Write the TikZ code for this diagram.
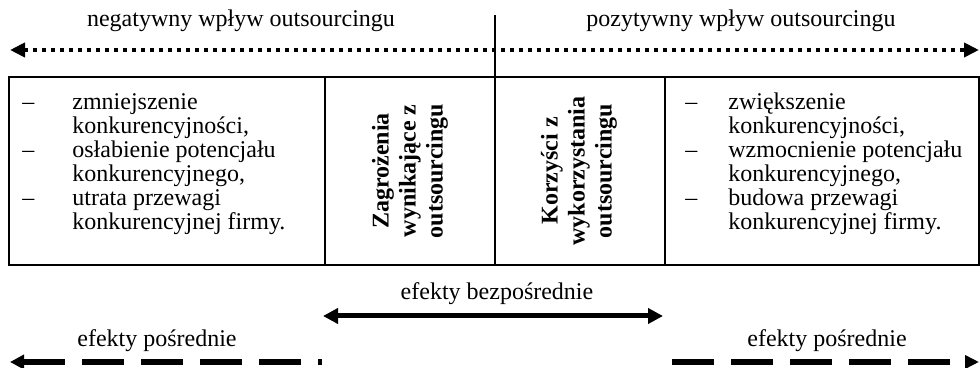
\documentclass[tikz,border=0pt]{standalone}
\usepackage{fontspec}
\setmainfont{Liberation Serif}
\usetikzlibrary{arrows.meta}
\begin{document}
\begin{tikzpicture}[x=0.5pt,y=-0.5pt,
  lbl/.style={font=\fontsize{12}{12}\selectfont, inner sep=0pt, anchor=base},
  item/.style={font=\fontsize{12}{12}\selectfont, inner sep=0pt, anchor=base west},
  vtitle/.style={font=\fontsize{12}{13.5}\selectfont\bfseries, inner sep=0pt, rotate=90, align=center},
  frame/.style={line width=1pt},
  dotarrow/.style={line width=2pt, dash pattern=on 2pt off 2.5pt, {Triangle[length=7.5pt,width=7pt]}-{Triangle[length=7.5pt,width=7pt]}},
  solidarrow/.style={line width=2.5pt, {Triangle[length=7.5pt,width=7.5pt]}-{Triangle[length=7.5pt,width=7.5pt]}},
  dasharrow/.style={line width=2.6pt, dash pattern=on 21pt off 8.5pt}
]
\useasboundingbox (0,0) rectangle (980,368);

% top labels
\node[lbl] (neg) at (241,27) {negatywny wpływ outsourcingu};
\node[lbl] (poz) at (741,27) {pozytywny wpływ outsourcingu};

% dotted arrow
\coordinate (dl) at (10,50);
\coordinate (dr) at (979,50);
\draw[dotarrow] (dl) -- (dr);

% vertical divider
\coordinate (vt) at (495,15);
\coordinate (vb) at (495,77);
\draw[frame] (vt) -- (vb);

% table
\coordinate (tl) at (9,77);
\coordinate (br) at (979,265);
\draw[frame] (tl) rectangle (br);
\draw[frame] (325,77) -- (325,265);
\draw[frame] (495,77) -- (495,265);
\draw[frame] (665,77) -- (665,265);

% left list
\node[item] (l1d) at (22,110) {–};
\node[item] (l1a) at (72,110) {zmniejszenie};
\node[item] (l1b) at (72,134) {konkurencyjności,};
\node[item] (l2d) at (22,158) {–};
\node[item] (l2a) at (72,158) {osłabienie potencjału};
\node[item] (l2b) at (72,182) {konkurencyjnego,};
\node[item] (l3d) at (22,206) {–};
\node[item] (l3a) at (72,206) {utrata przewagi};
\node[item] (l3b) at (72,230) {konkurencyjnej firmy.};

% vertical titles
\node[vtitle] (zag) at (410,171) {Zagrożenia\\wynikające z\\outsourcingu};
\node[vtitle] (kor) at (579,171) {Korzyści z\\wykorzystania\\outsourcingu};

% right list
\node[item] (r1d) at (685,110) {–};
\node[item] (r1a) at (728,110) {zwiększenie};
\node[item] (r1b) at (728,134) {konkurencyjności,};
\node[item] (r2d) at (685,158) {–};
\node[item] (r2a) at (728,158) {wzmocnienie potencjału};
\node[item] (r2b) at (728,182) {konkurencyjnego,};
\node[item] (r3d) at (685,206) {–};
\node[item] (r3a) at (728,206) {budowa przewagi};
\node[item] (r3b) at (728,230) {konkurencyjnej firmy.};

% direct effects
\node[lbl] (bez) at (497,300) {efekty bezpośrednie};
\coordinate (sl) at (323,316);
\coordinate (sr) at (663,316);
\draw[solidarrow] (sl) -- (sr);

% indirect effects
\node[lbl] (posl) at (157,347) {efekty pośrednie};
\node[lbl] (posr) at (827,347) {efekty pośrednie};
\coordinate (pl1) at (10,362);
\coordinate (pl2) at (322,362);
\coordinate (pr1) at (672,362);
\coordinate (pr2) at (979,362);
\draw[dasharrow, {Triangle[length=7pt,width=7pt]}-] (pl1) -- (pl2);
\draw[dasharrow, -{Triangle[length=7pt,width=6.5pt]}] (pr1) -- (pr2);
\end{tikzpicture}
\end{document}
